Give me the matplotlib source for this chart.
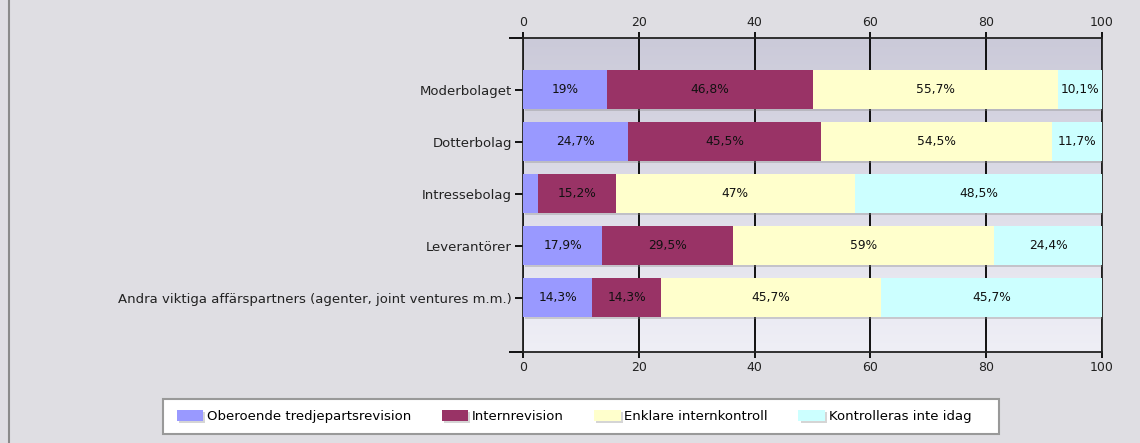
import numpy as np
import matplotlib
matplotlib.use("Agg")
from matplotlib import pyplot as plt
from matplotlib import patheffects
from matplotlib.patches import Rectangle

categories = ["Moderbolaget", "Dotterbolag", "Intressebolag", "Leverantörer",
              "Andra viktiga affärspartners (agenter, joint ventures m.m.)"]
series_names = ["Oberoende tredjepartsrevision", "Internrevision",
                "Enklare internkontroll", "Kontrolleras inte idag"]
oberoende = [19, 24.7, 3, 17.9, 14.3]
internrev = [46.8, 45.5, 15.2, 29.5, 14.3]
enklare = [55.7, 54.5, 47, 59, 45.7]
kontroll = [10.1, 11.7, 48.5, 24.4, 45.7]
colors = ["#9999ff", "#993366", "#ffffcc", "#ccffff"]
xticks = [0, 20, 40, 60, 80, 100]

bg = "#dfdee3"
plt.rcParams['font.family'] = ['DejaVu Sans']
plt.rcParams['font.size'] = 9.5

fig = plt.figure(figsize=(11.4, 4.43), dpi=100, facecolor=bg)
ax = fig.add_axes([523/1140, 1 - 352/443, (1102-523)/1140, (352-38)/443])

# gradient plot background
grad = np.linspace(0, 1, 256).reshape(-1, 1)
top_c = np.array([0xcb, 0xca, 0xd9]) / 255
bot_c = np.array([0xef, 0xef, 0xf6]) / 255
img = top_c + (bot_c - top_c) * grad[:, :, None]
ax.imshow(img, extent=[0, 1, 0, 1], transform=ax.transAxes, aspect='auto', zorder=0)

data = np.array([oberoende, internrev, enklare, kontroll])
totals = data.sum(axis=0)
shares = data / totals * 100
ypos = np.arange(len(categories))

shadow = [patheffects.SimplePatchShadow(offset=(1.5, -1.5), shadow_rgbFace='#888888', alpha=0.35),
          patheffects.Normal()]

left = np.zeros(len(categories))
for i, name in enumerate(series_names):
    bars = ax.barh(ypos, shares[i], left=left, height=0.75, color=colors[i],
                   label=name, zorder=3, edgecolor='none')
    for b in bars:
        b.set_path_effects(shadow)
    for j in range(len(categories)):
        if shares[i][j] < 4:
            continue
        lab = f"{data[i][j]:g}".replace('.', ',') + '%'
        ax.text(left[j] + shares[i][j] / 2, ypos[j], lab, ha='center', va='center',
                color='#111111', fontsize=8.8, zorder=5)
    left += shares[i]

ax.set_xlim(0, 100)
ax.set_ylim(5.05, -1)
ax.set_xticks(xticks)
ax.set_yticks(ypos)
ax.set_yticklabels(categories)
ax.tick_params(axis='x', which='both', top=True, labeltop=True, bottom=True, labelbottom=True,
               direction='out', length=4, width=1.3, color='black', pad=2.5, labelsize=9,
               labelcolor='#222222')
ax.tick_params(axis='y', direction='out', length=6, width=1.3, pad=2, labelcolor='#222222')
ax.set_yticks([-1, 5.05], minor=True)
ax.tick_params(axis='y', which='minor', length=10, width=1.3)
ax.grid(axis='x', color='black', linewidth=1.3, zorder=1)
ax.set_axisbelow(True)
for s in ax.spines.values():
    s.set_linewidth(1.3)
    s.set_color('#222222')

# legend box (drawn separately, padding is wider on the right)
fig.add_artist(Rectangle((163/1140, 1 - 434/443), (999-163)/1140, 35/443,
                         transform=fig.transFigure, facecolor='white',
                         edgecolor='#999999', linewidth=1.5, zorder=1))
leg = fig.legend(loc='center', bbox_to_anchor=(574/1140, 1 - 416.5/443), ncol=4,
                 frameon=False, handlelength=2.0, handleheight=0.85, handletextpad=0.3,
                 columnspacing=2.3, borderpad=0, borderaxespad=0)
leg.set_zorder(2)
for h in leg.legend_handles:
    h.set_path_effects(shadow)

# left border line
fig.add_artist(plt.Line2D([9/1140, 9/1140], [0, 1], color='#8a8a8a', linewidth=1.5,
                          transform=fig.transFigure))

fig.savefig("out.png", dpi=100, facecolor=bg)
